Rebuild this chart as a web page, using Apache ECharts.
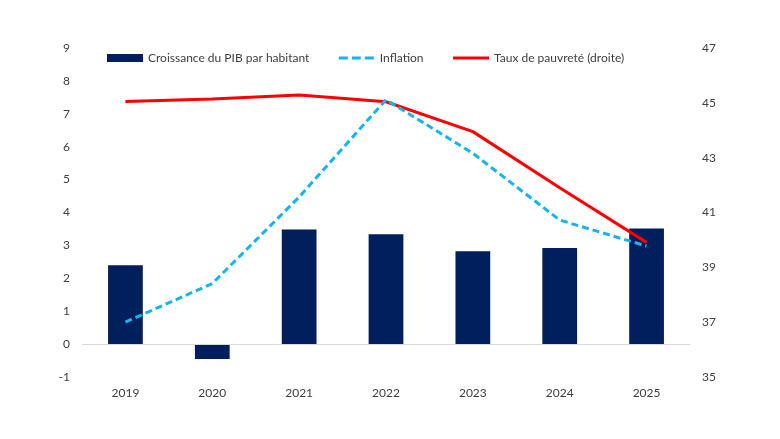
<!DOCTYPE html>
<html>
<head>
<meta charset="utf-8">
<script src="https://cdn.jsdelivr.net/npm/echarts@6/dist/echarts.min.js"></script>
<style>
html,body{margin:0;padding:0;background:#fff;}
#chart{width:780px;height:439px;}
</style>
</head>
<body>
<div id="chart"></div>
<script>
var years = ['2019','2020','2021','2022','2023','2024','2025'];
var gdpGrowth = [2.40, -0.45, 3.48, 3.34, 2.82, 2.92, 3.51];
var inflation = [0.67, 1.84, 4.47, 7.43, 5.80, 3.77, 2.98];
var poverty = [45.05, 45.14, 45.29, 45.04, 43.95, 41.9, 39.91];
var leftTicks = {min: -1, max: 9, interval: 1};
var rightTicks = {min: 35, max: 47, interval: 2};

var FONT = 'Lato, "Open Sans", sans-serif';
var TXT = '#404040';

var chart = echarts.init(document.getElementById('chart'));
chart.setOption({
  animation: false,
  textStyle: {fontFamily: FONT},
  grid: {left: 82, right: 90, top: 48, bottom: 62},
  legend: {
    left: 107, top: 52, padding: 0,
    itemWidth: 36, itemHeight: 8, itemGap: 28,
    textStyle: {fontFamily: FONT, fontSize: 12, color: TXT},
    data: [
      {name: 'Croissance du PIB par habitant', icon: 'rect'},
      {name: 'Inflation', itemStyle: {opacity: 0}, lineStyle: {width: 3, type: [9, 4]}},
      {name: 'Taux de pauvreté (droite)', itemStyle: {opacity: 0}, lineStyle: {width: 3}}
    ]
  },
  xAxis: {
    type: 'category',
    data: years,
    axisLine: {show: false, onZero: false},
    axisTick: {show: false},
    axisLabel: {color: TXT, fontSize: 12, margin: 10, fontFamily: FONT}
  },
  yAxis: [
    {
      type: 'value', min: leftTicks.min, max: leftTicks.max, interval: leftTicks.interval,
      splitLine: {show: false}, axisLine: {show: false}, axisTick: {show: false},
      axisLabel: {color: TXT, fontSize: 12, margin: 12, fontFamily: FONT}
    },
    {
      type: 'value', min: rightTicks.min, max: rightTicks.max, interval: rightTicks.interval,
      alignTicks: false,
      splitLine: {show: false}, axisLine: {show: false}, axisTick: {show: false},
      axisLabel: {color: TXT, fontSize: 12, margin: 12, fontFamily: FONT}
    }
  ],
  series: [
    {
      name: 'Croissance du PIB par habitant',
      type: 'bar',
      data: gdpGrowth,
      barWidth: '40%',
      itemStyle: {color: '#001F5C'},
      markLine: {
        silent: true, symbol: 'none',
        label: {show: false},
        lineStyle: {color: '#d9d9d9', type: 'solid', width: 1},
        data: [{yAxis: 0}]
      },
      z: 1
    },
    {
      name: 'Inflation',
      type: 'line',
      data: inflation,
      symbol: 'none',
      lineStyle: {color: '#14B4EE', width: 3, type: [7, 4]},
      itemStyle: {color: '#14B4EE'},
      z: 3
    },
    {
      name: 'Taux de pauvreté (droite)',
      type: 'line',
      yAxisIndex: 1,
      data: poverty,
      symbol: 'none',
      lineStyle: {color: '#FF0000', width: 3},
      itemStyle: {color: '#FF0000'},
      z: 2
    }
  ]
});
</script>
</body>
</html>
